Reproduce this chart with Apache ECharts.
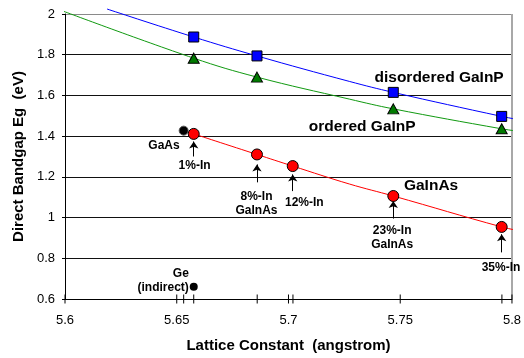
<!DOCTYPE html>
<html>
<head>
<meta charset="utf-8">
<script src="https://cdn.jsdelivr.net/npm/echarts@6/dist/echarts.min.js"></script>
<style>
html, body { margin: 0; padding: 0; background: #fff; }
#chart { width: 524px; height: 358px; }
</style>
</head>
<body>
<div id="chart"></div>
<script>
// Axis ticks
const xTicks = [5.6, 5.65, 5.7, 5.75, 5.8];
const yTicks = [0.6, 0.8, 1.0, 1.2, 1.4, 1.6, 1.8, 2.0];

// Disordered GaInP (squares)
const disorderedX = [5.6576, 5.6859, 5.7469, 5.7954];
const disorderedEg = [1.887, 1.794, 1.615, 1.497];

// Ordered GaInP (triangles)
const orderedX = [5.6576, 5.6859, 5.7469, 5.7954];
const orderedEg = [1.783, 1.690, 1.534, 1.436];

// GaInAs compositions (circles)
const gainasX = [5.6576, 5.6859, 5.7019, 5.7469, 5.7954];
const gainasEg = [1.411, 1.310, 1.253, 1.106, 0.954];
const gainasNames = ['1%-In', '8%-In\nGaInAs', '12%-In', '23%-In\nGaInAs', '35%-In'];

// Binary references
const gaasPoint = [5.6531, 1.427];
const gePoint = [5.6576, 0.660];

// Trend curves through each family
const disorderedFitX = [5.6188, 5.6576, 5.6859, 5.7272, 5.7469, 5.7954, 5.805];
const disorderedFitEg = [2.0245, 1.887, 1.794, 1.669, 1.615, 1.497, 1.477];
const orderedFitX = [5.5978, 5.6576, 5.6859, 5.7272, 5.7469, 5.7954, 5.805];
const orderedFitEg = [2.0196, 1.783, 1.690, 1.582, 1.534, 1.436, 1.421];
const gainasFitX = [5.6576, 5.6859, 5.7019, 5.7272, 5.7469, 5.7954, 5.805];
const gainasFitEg = [1.411, 1.310, 1.253, 1.165, 1.106, 0.954, 0.932];

// Callout arrows under the GaInAs points (tip and tail energies)
const arrowTipEg = [1.3735, 1.261, 1.212, 1.081, 0.918];
const arrowTailEg = [1.300, 1.173, 1.130, 0.995, 0.829];

// Callout text anchors
const calloutX = [5.6580, 5.6857, 5.7071, 5.7464, 5.7951];
const calloutEg = [1.2526, 1.069, 1.0734, 0.900, 0.752];

// Family names
const familyNames = ['disordered GaInP', 'ordered GaInP', 'GaInAs'];
const familyX = [5.7674, 5.7330, 5.7638];
const familyEg = [1.688, 1.447, 1.155];

// Extra marks on the lattice-constant axis
const axisMarksX = [5.6, 5.65, 5.6531, 5.6576, 5.686, 5.7, 5.702, 5.75, 5.7955, 5.8];

const FONT = 'Arial, "Liberation Sans", sans-serif';
const pairs = (xs, ys) => xs.map((x, i) => [x, ys[i]]);

const chart = echarts.init(document.getElementById('chart'), null, { renderer: 'canvas' });

const textLabel = (size, align, lineHeight) => ({
  show: true, position: 'inside', formatter: p => p.name,
  fontFamily: FONT, fontSize: size, fontWeight: 'bold', color: '#000',
  textBorderWidth: 0, opacity: 1,
  lineHeight: lineHeight, align: align, verticalAlign: 'middle'
});

const option = {
  backgroundColor: '#ffffff',
  animation: false,
  grid: { left: 65, right: 11, top: 14, bottom: 58 },
  xAxis: {
    type: 'value',
    min: xTicks[0],
    max: xTicks[xTicks.length - 1],
    interval: 0.05,
    name: 'Lattice Constant  (angstrom)',
    nameLocation: 'middle',
    nameGap: 39,
    nameTextStyle: { fontFamily: FONT, fontSize: 15, fontWeight: 'bold', color: '#000' },
    axisLine: { show: true, lineStyle: { color: '#000', width: 1 } },
    axisTick: { show: false },
    axisLabel: {
      margin: 15, fontFamily: FONT, fontSize: 13, color: '#000',
      formatter: v => String(+v.toFixed(2))
    },
    splitLine: {
      show: true,
      lineStyle: { color: ['rgba(0,0,0,0)', 'rgba(0,0,0,0)', 'rgba(0,0,0,0)', 'rgba(0,0,0,0)', '#a8a8a8'], width: 2 }
    }
  },
  yAxis: {
    type: 'value',
    min: yTicks[0],
    max: yTicks[yTicks.length - 1],
    interval: 0.2,
    name: 'Direct Bandgap Eg  (eV)',
    nameLocation: 'middle',
    nameGap: 33,
    nameTextStyle: { fontFamily: FONT, fontSize: 15, fontWeight: 'bold', color: '#000' },
    axisLine: { show: true, lineStyle: { color: '#000', width: 1 } },
    axisTick: { show: true, length: 3, lineStyle: { color: '#000' } },
    axisLabel: {
      margin: 10, fontFamily: FONT, fontSize: 13, color: '#000',
      formatter: v => String(+v.toFixed(1))
    },
    splitLine: {
      show: true,
      lineStyle: { color: ['#000', '#111', '#111', '#111', '#111', '#111', '#111', '#8a8a8a'], width: 1 }
    }
  },
  series: [
    {
      type: 'line', name: 'disordered fit', data: pairs(disorderedFitX, disorderedFitEg),
      smooth: 0.4, showSymbol: false, clip: false, silent: true,
      lineStyle: { color: '#0000ff', width: 1 }
    },
    {
      type: 'line', name: 'ordered fit', data: pairs(orderedFitX, orderedFitEg),
      smooth: 0.4, showSymbol: false, clip: false, silent: true,
      lineStyle: { color: '#119a11', width: 1 }
    },
    {
      type: 'line', name: 'GaInAs fit', data: pairs(gainasFitX, gainasFitEg),
      smooth: 0.4, showSymbol: false, clip: false, silent: true,
      lineStyle: { color: '#ff0000', width: 1 }
    },
    {
      type: 'scatter', name: 'axis marks', data: axisMarksX.map(x => [x, yTicks[0]]),
      symbol: 'rect', symbolSize: [1, 9], clip: false, silent: true, z: 5,
      itemStyle: { color: '#000', opacity: 1 }
    },
    {
      type: 'scatter', name: 'disordered GaInP', data: pairs(disorderedX, disorderedEg),
      symbol: 'rect', symbolSize: 10, z: 6,
      itemStyle: { color: '#0000ff', borderColor: '#000', borderWidth: 1, opacity: 1 }
    },
    {
      type: 'scatter', name: 'ordered GaInP', data: pairs(orderedX, orderedEg),
      symbol: 'triangle', symbolSize: [11, 10], z: 6,
      itemStyle: { color: '#007a00', borderColor: '#000', borderWidth: 1, opacity: 1 }
    },
    {
      type: 'scatter', name: 'GaAs', data: [gaasPoint],
      symbol: 'circle', symbolSize: 9, z: 5,
      itemStyle: { color: '#000', borderColor: '#555', borderWidth: 1, opacity: 1 }
    },
    {
      type: 'scatter', name: 'Ge', data: [gePoint],
      symbol: 'circle', symbolSize: 8, z: 6,
      itemStyle: { color: '#000', opacity: 1 }
    },
    {
      type: 'scatter', name: 'GaInAs', data: pairs(gainasX, gainasEg),
      symbol: 'circle', symbolSize: 11, z: 7,
      itemStyle: { color: '#ff0000', borderColor: '#000', borderWidth: 1, opacity: 1 },
      markLine: {
        silent: true,
        symbol: ['none', 'arrow'],
        symbolSize: 7,
        label: { show: false },
        lineStyle: { color: '#000', width: 1, type: 'solid', opacity: 1 },
        emphasis: { disabled: true },
        data: gainasX.map((x, i) => [
          { coord: [x, arrowTailEg[i]] },
          { coord: [x, arrowTipEg[i]] }
        ])
      }
    },
    {
      type: 'scatter', name: 'callouts', silent: true, symbolSize: 0, z: 8,
      itemStyle: { opacity: 1 },
      data: calloutX.map((x, i) => ({ value: [x, calloutEg[i]], name: gainasNames[i] })),
      label: textLabel(12, 'center', 14.5)
    },
    {
      type: 'scatter', name: 'binary names', silent: true, symbolSize: 0, z: 8,
      itemStyle: { opacity: 1 },
      data: [
        { value: [5.6513, 1.355], name: 'GaAs' },
        { value: [5.6554, 0.6917], name: 'Ge\n(indirect)' }
      ],
      label: textLabel(12, 'right', 14)
    },
    {
      type: 'scatter', name: 'family names', silent: true, symbolSize: 0, z: 8,
      itemStyle: { opacity: 1 },
      data: familyX.map((x, i) => ({ value: [x, familyEg[i]], name: familyNames[i] })),
      label: textLabel(15.5, 'center', 18)
    }
  ]
};

chart.setOption(option);
</script>
</body>
</html>
